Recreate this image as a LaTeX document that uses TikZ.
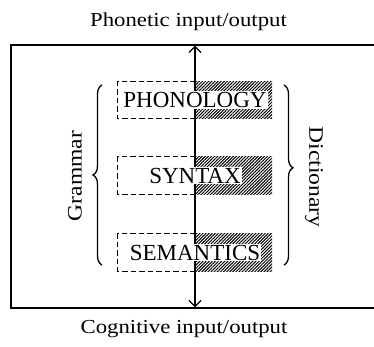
\documentclass[tikz,border=0pt]{standalone}
\usepackage{fontspec}
\setmainfont{Liberation Serif}
\newfontfamily\widefont{Liberation Serif}[FakeStretch=1.15]
\usetikzlibrary{arrows.meta,decorations.pathreplacing,patterns.meta}
\begin{document}
\begin{tikzpicture}[x=1pt,y=1pt,
  lbl/.style={font=\widefont\fontsize{19.8}{22}\selectfont, inner sep=0pt},
  sidelbl/.style={font=\widefont\fontsize{20.5}{23}\selectfont, inner sep=0pt},
  comp/.style={font=\fontsize{23}{26}\selectfont, fill=white, inner sep=1pt},
  compbox/.style={draw=none, minimum width=154pt, minimum height=37pt, inner sep=0pt},
  dashbox/.style={draw, line width=1.2pt, dash pattern=on 5.5pt off 3pt},
  hatch/.style={pattern={Lines[angle=45,distance=2.2pt,line width=1pt]}},
  brc/.style={decorate, decoration={brace, amplitude=9pt, raise=0pt}, line width=1.3pt},
  frame/.style={line width=1.5pt},
  flow/.style={line width=1.2pt, {Straight Barb[length=6pt,width=12pt]}-{Straight Barb[length=6pt,width=12pt]}}
]
\useasboundingbox (0,0) rectangle (374,346);
% outer frame (right side lies beyond the picture)
\draw[frame] (376,301) -- (11,301) -- (11,38) -- (376,38);
% vertical flow arrow
\coordinate (ptop) at (195,300.3);
\coordinate (pbot) at (195,38.7);
\draw[flow] (pbot) -- (ptop);
% component boxes
\foreach \nm/\yy/\txt in {ph/246/PHONOLOGY, sy/170.5/SYNTAX, se/93.5/SEMANTICS}{
  \node[compbox] (\nm) at (195,\yy) {};
  \fill[hatch] (\nm.north) rectangle (\nm.south east);
  \draw[dashbox] (\nm.north) -- (\nm.north west) -- (\nm.south west) -- (\nm.south);
  \node[comp] (\nm t) at (\nm) {\txt};
}
% braces
\coordinate (lb1) at (102,81);
\coordinate (lb2) at (102,261);
\coordinate (rb1) at (284,261);
\coordinate (rb2) at (284,81);
\draw[brc] (lb1) -- (lb2);
\draw[brc, decoration={brace, amplitude=9pt, aspect=0.46}] (rb1) -- (rb2);
% labels
\node[lbl, anchor=base] (phon) at (188.5,319) {Phonetic input/output};
\node[lbl, anchor=base] (cog) at (184,13) {Cognitive input/output};
\node[sidelbl, rotate=90] (gram) at (75,170) {Grammar};
\node[sidelbl, rotate=-90] (dict) at (314,169) {Dictionary};
\end{tikzpicture}
\end{document}
